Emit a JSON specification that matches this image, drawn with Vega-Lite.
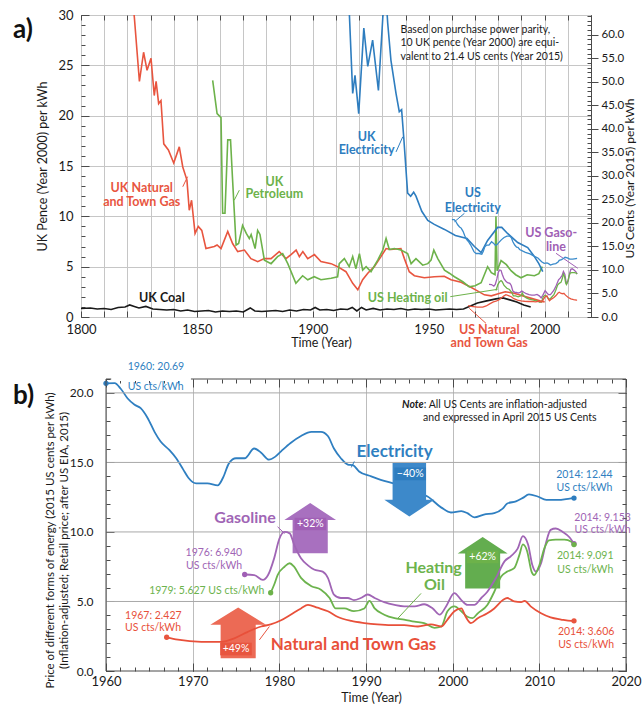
{
 "$schema": "https://vega.github.io/schema/vega-lite/v6.json",
 "background": "white",
 "padding": {"left": 12, "top": 8, "right": 0, "bottom": 0},
 "spacing": 12,
 "config": {
  "font": "Lato",
  "view": {"stroke": "#4a4a4a", "strokeWidth": 1},
  "axis": {"labelFont": "Lato", "titleFont": "Lato", "labelColor": "#1a1a1a", "titleColor": "#1a1a1a", "titleFontWeight": "normal", "domainColor": "#4a4a4a", "tickColor": "#4a4a4a", "gridColor": "#c6c6c6", "labelFlush": false, "labelOverlap": false, "labelBound": false},
  "text": {"font": "Lato"}
 },
 "datasets": {
  "elec": [{"t":1960,"v":20.69},{"t":1961,"v":20.7},{"t":1961.7,"v":20.3},{"t":1962.5,"v":19.6},{"t":1963.3,"v":19.15},{"t":1964,"v":18.9},{"t":1964.8,"v":18.2},{"t":1965.6,"v":17.2},{"t":1966.3,"v":16.5},{"t":1967.3,"v":15.9},{"t":1968.1,"v":15.3},{"t":1968.9,"v":14.5},{"t":1969.5,"v":13.9},{"t":1970.4,"v":13.5},{"t":1971.7,"v":13.5},{"t":1972.9,"v":13.35},{"t":1973.5,"v":13.9},{"t":1974.2,"v":14.95},{"t":1975,"v":15.3},{"t":1976,"v":15.3},{"t":1977.1,"v":16.0},{"t":1977.9,"v":15.7},{"t":1978.8,"v":15.2},{"t":1979.5,"v":15.4},{"t":1980.2,"v":15.8},{"t":1981.3,"v":16.4},{"t":1982.5,"v":16.9},{"t":1983.7,"v":17.2},{"t":1984.8,"v":17.2},{"t":1985.6,"v":16.9},{"t":1986.3,"v":16.0},{"t":1987.1,"v":15.3},{"t":1987.9,"v":14.85},{"t":1988.5,"v":14.8},{"t":1989.2,"v":14.35},{"t":1990.6,"v":14.0},{"t":1991.7,"v":13.75},{"t":1993.7,"v":13.4},{"t":1995.6,"v":12.9},{"t":1997.1,"v":12.55},{"t":1998.7,"v":11.75},{"t":1999.8,"v":11.4},{"t":2001,"v":11.5},{"t":2001.7,"v":11.35},{"t":2002.5,"v":11.05},{"t":2003.6,"v":11.25},{"t":2004.8,"v":11.35},{"t":2005.8,"v":11.7},{"t":2006.3,"v":12.05},{"t":2007.3,"v":12.2},{"t":2008.1,"v":12.45},{"t":2008.8,"v":12.7},{"t":2009.8,"v":12.55},{"t":2010.8,"v":12.3},{"t":2012.1,"v":12.3},{"t":2013.5,"v":12.4},{"t":2014,"v":12.44}],
  "gasoline": [{"t":1976,"v":6.94},{"t":1977.1,"v":6.9},{"t":1978.1,"v":6.55},{"t":1978.7,"v":6.9},{"t":1979.4,"v":8.1},{"t":1980,"v":9.5},{"t":1980.6,"v":10.0},{"t":1981.2,"v":9.9},{"t":1981.7,"v":9.1},{"t":1982.5,"v":8.1},{"t":1983.3,"v":7.6},{"t":1984,"v":7.3},{"t":1985,"v":7.15},{"t":1985.6,"v":6.7},{"t":1986.3,"v":5.5},{"t":1987.1,"v":5.25},{"t":1987.9,"v":5.25},{"t":1988.6,"v":5.1},{"t":1989.4,"v":5.25},{"t":1990.2,"v":5.5},{"t":1991,"v":5.25},{"t":1992.1,"v":4.95},{"t":1993.3,"v":4.75},{"t":1994.4,"v":4.65},{"t":1995.6,"v":4.65},{"t":1996.7,"v":4.8},{"t":1997.7,"v":4.5},{"t":1998.5,"v":4.05},{"t":1999.2,"v":4.6},{"t":2000.2,"v":5.6},{"t":2001,"v":5.1},{"t":2001.7,"v":4.75},{"t":2002.5,"v":4.75},{"t":2003.3,"v":5.25},{"t":2004,"v":5.7},{"t":2005,"v":6.7},{"t":2006,"v":7.9},{"t":2006.7,"v":8.25},{"t":2007.5,"v":8.8},{"t":2008.1,"v":9.7},{"t":2008.7,"v":9.1},{"t":2009.2,"v":7.6},{"t":2009.6,"v":7.15},{"t":2010.2,"v":7.75},{"t":2010.8,"v":9.3},{"t":2011.3,"v":10.15},{"t":2011.9,"v":10.25},{"t":2012.7,"v":10.0},{"t":2013.5,"v":9.6},{"t":2014,"v":9.153}],
  "oil": [{"t":1979,"v":5.627},{"t":1979.4,"v":6.2},{"t":1979.8,"v":6.9},{"t":1980.6,"v":7.5},{"t":1981.2,"v":7.75},{"t":1981.7,"v":7.5},{"t":1982.5,"v":6.7},{"t":1983.7,"v":6.1},{"t":1984.8,"v":5.85},{"t":1985.8,"v":5.25},{"t":1986.5,"v":4.5},{"t":1987.5,"v":4.5},{"t":1988.6,"v":4.3},{"t":1989.8,"v":4.5},{"t":1990.4,"v":5.05},{"t":1991,"v":4.5},{"t":1992.1,"v":4.05},{"t":1993.3,"v":3.8},{"t":1994.4,"v":3.7},{"t":1995.6,"v":3.55},{"t":1996.7,"v":3.45},{"t":1997.9,"v":3.1},{"t":1998.7,"v":3.2},{"t":1999.4,"v":4.3},{"t":2000.2,"v":4.65},{"t":2001,"v":4.3},{"t":2001.7,"v":3.9},{"t":2002.3,"v":3.8},{"t":2002.9,"v":4.15},{"t":2004,"v":4.75},{"t":2004.8,"v":5.7},{"t":2005.6,"v":6.8},{"t":2006.3,"v":7.15},{"t":2007.1,"v":7.4},{"t":2007.7,"v":8.35},{"t":2008.1,"v":9.1},{"t":2008.6,"v":8.6},{"t":2009.1,"v":7.15},{"t":2009.4,"v":6.9},{"t":2010,"v":7.6},{"t":2010.6,"v":8.85},{"t":2011.1,"v":9.4},{"t":2011.9,"v":9.45},{"t":2012.9,"v":9.45},{"t":2013.7,"v":9.3},{"t":2014,"v":9.091}],
  "ngas": [{"t":1967,"v":2.427},{"t":1968.3,"v":2.25},{"t":1971,"v":2.1},{"t":1973.3,"v":2.1},{"t":1974.8,"v":2.35},{"t":1976.3,"v":2.8},{"t":1977.9,"v":3.2},{"t":1979,"v":3.35},{"t":1980.2,"v":3.65},{"t":1981.3,"v":4.05},{"t":1982.5,"v":4.5},{"t":1983.3,"v":4.75},{"t":1984.4,"v":4.55},{"t":1985.6,"v":4.3},{"t":1986.7,"v":3.9},{"t":1988.3,"v":3.6},{"t":1989.8,"v":3.45},{"t":1991.3,"v":3.35},{"t":1992.9,"v":3.3},{"t":1994.4,"v":3.3},{"t":1996,"v":3.2},{"t":1997.5,"v":3.35},{"t":1998.7,"v":3.2},{"t":1999.4,"v":3.7},{"t":2000.2,"v":4.3},{"t":2001,"v":4.5},{"t":2001.5,"v":3.9},{"t":2002.1,"v":3.45},{"t":2002.9,"v":3.8},{"t":2004,"v":4.15},{"t":2004.8,"v":4.5},{"t":2005.8,"v":5.1},{"t":2006.3,"v":5.25},{"t":2007.1,"v":5.0},{"t":2007.9,"v":4.95},{"t":2008.3,"v":5.05},{"t":2009,"v":4.65},{"t":2010.2,"v":4.15},{"t":2011.3,"v":3.85},{"t":2012.5,"v":3.7},{"t":2013.7,"v":3.6},{"t":2014,"v":3.606}]
 },
 "vconcat": [
  {
   "width": 510, "height": 302,
   "layer": [
    {"layer": [
     {"data": {"values": [{"t":1822,"v":32},{"t":1823,"v":29.8},{"t":1825.2,"v":23.4},{"t":1827,"v":26.3},{"t":1828.5,"v":24.5},{"t":1830.2,"v":25.7},{"t":1831.6,"v":22.0},{"t":1832.4,"v":23.4},{"t":1833.5,"v":21.2},{"t":1834.5,"v":21.5},{"t":1835.7,"v":17.2},{"t":1837.7,"v":16.6},{"t":1840,"v":15.3},{"t":1842.4,"v":16.9},{"t":1843.9,"v":14.9},{"t":1845.7,"v":13.6},{"t":1846.7,"v":10.6},{"t":1847.7,"v":11.6},{"t":1849.2,"v":8.3},{"t":1850.6,"v":9.0},{"t":1852.1,"v":8.6},{"t":1853.9,"v":6.8},{"t":1857.5,"v":7.0},{"t":1858.7,"v":7.15},{"t":1860.4,"v":6.8},{"t":1863.3,"v":8.5},{"t":1865.4,"v":7.3},{"t":1867.6,"v":6.5},{"t":1870.5,"v":6.65},{"t":1873.3,"v":5.8},{"t":1876.2,"v":5.5},{"t":1879.1,"v":5.8},{"t":1882,"v":5.8},{"t":1885.5,"v":6.5},{"t":1888.4,"v":5.8},{"t":1890.6,"v":6.2},{"t":1892.8,"v":6.65},{"t":1894.2,"v":6.0},{"t":1895.7,"v":6.5},{"t":1897.8,"v":5.8},{"t":1900.7,"v":6.2},{"t":1903.5,"v":5.5},{"t":1907.9,"v":5.3},{"t":1910.7,"v":5.0},{"t":1914.3,"v":4.5},{"t":1917.2,"v":3.35},{"t":1919.4,"v":2.7},{"t":1921.5,"v":3.7},{"t":1923.7,"v":4.35},{"t":1926.5,"v":5.0},{"t":1929.4,"v":6.0},{"t":1931.6,"v":6.8},{"t":1933.7,"v":6.7},{"t":1938,"v":6.8},{"t":1939.5,"v":5.8},{"t":1941.6,"v":4.5},{"t":1943.8,"v":4.1},{"t":1948.1,"v":3.9},{"t":1952.4,"v":4.0},{"t":1956.7,"v":4.05},{"t":1959.6,"v":3.7},{"t":1964,"v":3.45},{"t":1968.2,"v":2.95},{"t":1971,"v":2.6},{"t":1974,"v":2.2},{"t":1977,"v":2.1},{"t":1980,"v":2.3},{"t":1983,"v":2.5},{"t":1986,"v":2.4},{"t":1989,"v":2.2},{"t":1992,"v":2.0},{"t":1995,"v":1.8},{"t":1998,"v":1.6},{"t":2000,"v":1.5}]},
      "mark": {"type": "line", "color": "#e8553f", "strokeWidth": 1.6, "clip": true},
      "encoding": {
       "x": {"field": "t", "type": "quantitative", "scale": {"domain": [1800, 2020], "nice": false},
        "axis": {"orient": "bottom", "title": "Time  (Year)", "values": [1800,1810,1820,1830,1840,1850,1860,1870,1880,1890,1900,1910,1920,1930,1940,1950,1960,1970,1980,1990,2000,2010,2020], "format": "d", "labelExpr": "datum.value % 50 === 0 ? datum.label : ''", "tickSize": -6, "labelPadding": 12.5, "labelFontSize": 13, "titleFontSize": 12.5, "titlePadding": 0, "titleX": 240, "grid": true, "domain": false}},
       "y": {"field": "v", "type": "quantitative", "scale": {"domain": [0, 30], "nice": false},
        "axis": {"orient": "left", "title": "UK Pence (Year 2000) per kWh", "values": [0,5,10,15,20,25,30], "format": "d", "tickSize": -8, "labelPadding": 16, "labelFontSize": 13, "titleFontSize": 12.5, "titlePadding": 8, "grid": true, "domain": false}}
      }
     },
     {"data": {"values": [{"t": 1900, "v": 10}]},
      "mark": {"type": "point", "opacity": 0},
      "encoding": {
       "x": {"field": "t", "type": "quantitative", "axis": {"orient": "top", "values": [1800,1810,1820,1830,1840,1850,1860,1870,1880,1890,1900,1910,1920,1930,1940,1950,1960,1970,1980,1990,2000,2010,2020], "labels": false, "tickSize": -5, "domain": false, "grid": false, "title": null}},
       "y": {"field": "v", "type": "quantitative", "axis": {"orient": "left", "values": [0,1,2,3,4,5,6,7,8,9,10,11,12,13,14,15,16,17,18,19,20,21,22,23,24,25,26,27,28,29,30], "labels": false, "tickSize": -4, "domain": false, "grid": false, "title": null}}
      }
     },
     {"data": {"values": [{"t":1856.8,"v":23.5},{"t":1858.7,"v":20.2},{"t":1860.4,"v":19.8},{"t":1861.1,"v":10.3},{"t":1862.1,"v":10.3},{"t":1863.3,"v":17.6},{"t":1864.5,"v":17.6},{"t":1865.3,"v":14},{"t":1866.9,"v":7.15},{"t":1868,"v":7.3},{"t":1869.7,"v":9.1},{"t":1871.3,"v":8.3},{"t":1872.6,"v":7.8},{"t":1873.4,"v":8.2},{"t":1875.1,"v":6.8},{"t":1876.2,"v":8.6},{"t":1877.2,"v":8.2},{"t":1879.1,"v":5.65},{"t":1882,"v":5.3},{"t":1884.8,"v":6.0},{"t":1887,"v":6.3},{"t":1889.2,"v":5.3},{"t":1892.7,"v":3.35},{"t":1895.6,"v":4.1},{"t":1897.8,"v":3.7},{"t":1900.6,"v":4.0},{"t":1903.5,"v":3.7},{"t":1907.9,"v":3.85},{"t":1910.7,"v":4.0},{"t":1911.4,"v":5.3},{"t":1913.6,"v":5.8},{"t":1915.7,"v":5.0},{"t":1917.2,"v":6.0},{"t":1918.6,"v":4.8},{"t":1920.1,"v":6.3},{"t":1921.5,"v":4.65},{"t":1923,"v":5.0},{"t":1925.1,"v":4.5},{"t":1928,"v":5.65},{"t":1930.2,"v":6.65},{"t":1931.6,"v":7.8},{"t":1933,"v":6.7},{"t":1935.2,"v":6.8},{"t":1938,"v":6.65},{"t":1940.9,"v":6.3},{"t":1942.4,"v":5.3},{"t":1944.5,"v":5.8},{"t":1947.4,"v":5.15},{"t":1949.6,"v":5.3},{"t":1951,"v":5.65},{"t":1952.2,"v":6.65},{"t":1953.9,"v":5.8},{"t":1956.8,"v":4.65},{"t":1958.9,"v":4.35},{"t":1961.1,"v":4.0},{"t":1964.7,"v":3.5},{"t":1967.5,"v":3.0},{"t":1970,"v":3.1},{"t":1972.6,"v":3.4},{"t":1975.4,"v":5.0},{"t":1977,"v":4.4},{"t":1978.6,"v":4.2},{"t":1979,"v":10.0},{"t":1979.5,"v":4.6},{"t":1981.2,"v":5.6},{"t":1983.5,"v":5.2},{"t":1985.5,"v":4.6},{"t":1987.5,"v":4.2},{"t":1989.8,"v":3.9},{"t":1992.5,"v":4.2},{"t":1995.6,"v":4.1},{"t":1997.5,"v":4.3},{"t":1999,"v":5.0}]},
      "mark": {"type": "line", "color": "#6db24a", "strokeWidth": 1.6, "clip": true},
      "encoding": {"x": {"field": "t", "type": "quantitative", "axis": null}, "y": {"field": "v", "type": "quantitative", "axis": null}}
     },
     {"data": {"values": [{"t":1915.6,"v":31},{"t":1917.2,"v":22.2},{"t":1918.2,"v":24.0},{"t":1919.8,"v":20.2},{"t":1922,"v":28.7},{"t":1923.7,"v":24.9},{"t":1925.8,"v":27.5},{"t":1928.3,"v":22.5},{"t":1930.2,"v":29.8},{"t":1930.8,"v":31},{"t":1931.8,"v":31},{"t":1932.3,"v":29.2},{"t":1933.7,"v":25.5},{"t":1935.9,"v":22.2},{"t":1937.3,"v":20.4},{"t":1938.3,"v":20.6},{"t":1939.2,"v":17.9},{"t":1940.9,"v":12.3},{"t":1942.2,"v":12.0},{"t":1943.5,"v":12.4},{"t":1944.5,"v":12.0},{"t":1947,"v":10.5},{"t":1949.6,"v":9.6},{"t":1952.4,"v":9.2},{"t":1956.8,"v":8.7},{"t":1961.5,"v":8.1},{"t":1966.5,"v":7.8},{"t":1969.7,"v":7.0},{"t":1972.6,"v":6.4},{"t":1975.4,"v":7.6},{"t":1979.7,"v":8.9},{"t":1981.5,"v":8.9},{"t":1984,"v":8.3},{"t":1988.4,"v":7.4},{"t":1992.7,"v":6.9},{"t":1995.6,"v":6.0},{"t":1997.5,"v":5.3},{"t":1999.2,"v":4.5}]},
      "mark": {"type": "line", "color": "#2e7dbf", "strokeWidth": 1.6, "clip": true},
      "encoding": {"x": {"field": "t", "type": "quantitative", "axis": null}, "y": {"field": "v", "type": "quantitative", "axis": null}}
     },
     {"data": {"values": [{"t":1800,"v":0.85},{"t":1804,"v":0.9},{"t":1807,"v":0.8},{"t":1810,"v":0.85},{"t":1813,"v":0.75},{"t":1816,"v":0.95},{"t":1819,"v":1.0},{"t":1821,"v":1.2},{"t":1823,"v":1.05},{"t":1825,"v":0.9},{"t":1828,"v":1.05},{"t":1831,"v":0.8},{"t":1834,"v":0.75},{"t":1837,"v":0.7},{"t":1840,"v":0.75},{"t":1843,"v":0.6},{"t":1846,"v":0.7},{"t":1849,"v":0.55},{"t":1852,"v":0.6},{"t":1855,"v":0.65},{"t":1858,"v":0.5},{"t":1861,"v":0.6},{"t":1864,"v":0.55},{"t":1867,"v":0.6},{"t":1870,"v":0.5},{"t":1873,"v":0.9},{"t":1875,"v":0.6},{"t":1878,"v":0.55},{"t":1881,"v":0.6},{"t":1884,"v":0.65},{"t":1887,"v":0.55},{"t":1890,"v":0.7},{"t":1893,"v":0.6},{"t":1896,"v":0.75},{"t":1899,"v":0.7},{"t":1901,"v":0.95},{"t":1903,"v":0.7},{"t":1906,"v":0.75},{"t":1909,"v":0.65},{"t":1912,"v":0.8},{"t":1915,"v":0.75},{"t":1917,"v":0.95},{"t":1919,"v":0.6},{"t":1921,"v":0.95},{"t":1923,"v":0.7},{"t":1926,"v":0.85},{"t":1929,"v":0.7},{"t":1932,"v":0.8},{"t":1935,"v":0.75},{"t":1938,"v":0.85},{"t":1941,"v":0.7},{"t":1944,"v":0.8},{"t":1947,"v":0.75},{"t":1950,"v":0.8},{"t":1953,"v":0.7},{"t":1956,"v":0.75},{"t":1959,"v":0.8},{"t":1962,"v":0.75},{"t":1965,"v":0.8},{"t":1968,"v":1.1},{"t":1971,"v":1.4},{"t":1975,"v":1.6},{"t":1979,"v":1.8},{"t":1982,"v":1.9},{"t":1985,"v":1.7},{"t":1988,"v":1.5},{"t":1991,"v":1.2},{"t":1994,"v":1.0}]},
      "mark": {"type": "line", "color": "#1a1a1a", "strokeWidth": 1.6},
      "encoding": {"x": {"field": "t", "type": "quantitative", "axis": null}, "y": {"field": "v", "type": "quantitative", "axis": null}}
     },
     {"data": {"values": [{"k":"gas","t":1843.9,"v":12.94,"t2":1846.0,"v2":13.94},{"k":"oil","t":1866.1,"v":11.6,"t2":1868.3,"v2":12.6},{"k":"elec","t":1935.9,"v":16.4,"t2":1938.8,"v2":17.9},{"k":"elec","t":1961.1,"v":9.46,"t2":1965.4,"v2":10.3},{"k":"gasoline","t":2004.9,"v":6.33,"t2":2014.3,"v2":4.84},{"k":"oil","t":1959.3,"v":2.02,"t2":1979.7,"v2":2.75},{"k":"gas","t":1967.5,"v":0.86,"t2":1974.7,"v2":-0.63}]},
      "mark": {"type": "rule", "strokeWidth": 1},
      "encoding": {"x": {"field": "t", "type": "quantitative", "axis": null}, "x2": {"field": "t2"}, "y": {"field": "v", "type": "quantitative", "axis": null}, "y2": {"field": "v2"},
       "color": {"field": "k", "type": "nominal", "scale": {"domain": ["gas","oil","elec","gasoline"], "range": ["#e8553f","#6db24a","#2e7dbf","#a05fb5"]}, "legend": null}}
     },
     {"data": {"values": [{"t":1826.2,"v":12.78,"s":"UK Natural"},{"t":1826.2,"v":11.45,"s":"and Town Gas"},{"t":1976.1,"v":-1.29,"s":"US Natural"},{"t":1976.1,"v":-2.55,"s":"and Town Gas"}]},
      "mark": {"type": "text", "color": "#e8553f", "fontSize": 12.5, "fontWeight": "bold", "align": "center", "baseline": "middle"},
      "encoding": {"x": {"field": "t", "type": "quantitative", "axis": null}, "y": {"field": "v", "type": "quantitative", "axis": null}, "text": {"field": "s"}}
     },
     {"data": {"values": [{"t":1883.4,"v":13.44,"s":"UK"},{"t":1883.4,"v":12.18,"s":"Petroleum"},{"t":1940.9,"v":1.92,"s":"US Heating oil"}]},
      "mark": {"type": "text", "color": "#6db24a", "fontSize": 12.5, "fontWeight": "bold", "align": "center", "baseline": "middle"},
      "encoding": {"x": {"field": "t", "type": "quantitative", "axis": null}, "y": {"field": "v", "type": "quantitative", "axis": null}, "text": {"field": "s"}}
     },
     {"data": {"values": [{"t":1923.2,"v":17.9,"s":"UK"},{"t":1923.2,"v":16.58,"s":"Electricity"},{"t":1969.0,"v":12.28,"s":"US"},{"t":1969.0,"v":10.79,"s":"Electricity"}]},
      "mark": {"type": "text", "color": "#2e7dbf", "fontSize": 12.5, "fontWeight": "bold", "align": "center", "baseline": "middle"},
      "encoding": {"x": {"field": "t", "type": "quantitative", "axis": null}, "y": {"field": "v", "type": "quantitative", "axis": null}, "text": {"field": "s"}}
     },
     {"data": {"values": [{"t":2002.8,"v":8.31,"s":"US Gaso-"},{"t":2004.9,"v":6.98,"s":"line"}]},
      "mark": {"type": "text", "color": "#a05fb5", "fontSize": 12.5, "fontWeight": "bold", "align": "center", "baseline": "middle"},
      "encoding": {"x": {"field": "t", "type": "quantitative", "axis": null}, "y": {"field": "v", "type": "quantitative", "axis": null}, "text": {"field": "s"}}
     },
     {"data": {"values": [{"t":1834.9,"v":1.86,"s":"UK Coal"}]},
      "mark": {"type": "text", "color": "#1a1a1a", "fontSize": 12.5, "fontWeight": "bold", "align": "center", "baseline": "middle"},
      "encoding": {"x": {"field": "t", "type": "quantitative", "axis": null}, "y": {"field": "v", "type": "quantitative", "axis": null}, "text": {"field": "s"}}
     },
     {"data": {"values": [{"t":1937.8,"v":28.5,"s":"Based on purchase power parity,"},{"t":1937.8,"v":27.17,"s":"10 UK pence (Year 2000) are equi-"},{"t":1937.8,"v":25.85,"s":"valent to 21.4 US cents (Year 2015)"}]},
      "mark": {"type": "text", "color": "#1a1a1a", "fontSize": 10.5, "align": "left", "baseline": "middle"},
      "encoding": {"x": {"field": "t", "type": "quantitative", "axis": null}, "y": {"field": "v", "type": "quantitative", "axis": null}, "text": {"field": "s"}}
     },
     {"data": {"values": [{"t":1770.7,"v":28.5,"s":"a)"}]},
      "mark": {"type": "text", "color": "#111111", "fontSize": 26, "fontWeight": "bold", "align": "left", "baseline": "middle"},
      "encoding": {"x": {"field": "t", "type": "quantitative", "axis": null}, "y": {"field": "v", "type": "quantitative", "axis": null}, "text": {"field": "s"}}
     }
    ], "resolve": {"axis": {"x": "independent", "y": "independent"}}},
    {"layer": [
     {"data": {"name": "elec"},
      "mark": {"type": "line", "color": "#3a8bcb", "strokeWidth": 1.3},
      "encoding": {
       "x": {"field": "t", "type": "quantitative", "axis": null},
       "y": {"field": "v", "type": "quantitative", "scale": {"domain": [0, 64.2], "nice": false},
        "axis": {"orient": "right", "title": "US Cents (Year 2015) per kWh", "values": [0,5,10,15,20,25,30,35,40,45,50,55,60], "format": ".1f", "tickSize": 7, "labelPadding": 3, "labelFontSize": 11.5, "titleFontSize": 12, "titleAngle": 270, "titleBaseline": "top", "titlePadding": 1, "titleY": 163, "grid": false, "domain": true}}
      }
     },
     {"data": {"values": [{"t": 1900, "v": 10}]},
      "mark": {"type": "point", "opacity": 0},
      "encoding": {
       "x": {"field": "t", "type": "quantitative", "axis": null},
       "y": {"field": "v", "type": "quantitative", "axis": {"orient": "right", "values": [0,1,2,3,4,5,6,7,8,9,10,11,12,13,14,15,16,17,18,19,20,21,22,23,24,25,26,27,28,29,30,31,32,33,34,35,36,37,38,39,40,41,42,43,44,45,46,47,48,49,50,51,52,53,54,55,56,57,58,59,60,61,62,63,64], "labels": false, "tickSize": -4, "domain": false, "grid": false, "title": null}}
      }
     },
     {"data": {"name": "gasoline"},
      "mark": {"type": "line", "color": "#a05fb5", "strokeWidth": 1.3},
      "encoding": {"x": {"field": "t", "type": "quantitative", "axis": null}, "y": {"field": "v", "type": "quantitative", "axis": null}}
     },
     {"data": {"name": "oil"},
      "mark": {"type": "line", "color": "#6db24a", "strokeWidth": 1.3},
      "encoding": {"x": {"field": "t", "type": "quantitative", "axis": null}, "y": {"field": "v", "type": "quantitative", "axis": null}}
     },
     {"data": {"name": "ngas"},
      "mark": {"type": "line", "color": "#e8553f", "strokeWidth": 1.3},
      "encoding": {"x": {"field": "t", "type": "quantitative", "axis": null}, "y": {"field": "v", "type": "quantitative", "axis": null}}
     }
    ], "resolve": {"axis": {"y": "independent"}}}
   ],
   "resolve": {"scale": {"y": "independent"}, "axis": {"x": "independent", "y": "independent"}}
  },
  {
   "width": 545, "height": 292,
   "view": {"stroke": null},
   "layer": [
    {"data": {"name": "elec"},
     "mark": {"type": "line", "color": "#2f7fc1", "strokeWidth": 1.8, "interpolate": "monotone"},
     "encoding": {
      "x": {"field": "t", "type": "quantitative", "scale": {"domain": [1957.115, 2020], "nice": false},
       "axis": {"orient": "bottom", "title": "Time  (Year)", "values": [1960,1970,1980,1990,2000,2010,2020], "format": "d", "tickSize": -8, "labelPadding": 12.5, "labelFontSize": 13, "titleFontSize": 12.5, "titlePadding": 3, "titleX": 290, "grid": true, "gridColor": "#bdbdbd", "domain": false}},
      "y": {"field": "v", "type": "quantitative", "scale": {"domain": [0, 21], "nice": false},
       "axis": {"orient": "left", "offset": -25, "title": ["Price of different forms of energy  (2015 US cents per kWh)", "(Inflation-adjusted; Retail price; after US EIA, 2015)"], "values": [0,5,10,15,20], "format": ".1f", "tickSize": -8, "labelPadding": 21, "labelFontSize": 12, "titleFontSize": 11.5, "titleLineHeight": 14, "titlePadding": 0, "titleY": 161, "grid": false, "domain": false}}
     }
    },
    {"data": {"values": [{"v": 5}, {"v": 10}, {"v": 15}, {"v": 20}]},
     "mark": {"type": "rule", "color": "#a8a8a8", "strokeWidth": 1},
     "encoding": {"x": {"datum": 1960, "type": "quantitative", "axis": null}, "x2": {"datum": 2020}, "y": {"field": "v", "type": "quantitative", "axis": null}}
    },
    {"data": {"values": [{"t": 1990, "v": 10}]},
     "mark": {"type": "point", "opacity": 0},
     "encoding": {
      "x": {"field": "t", "type": "quantitative", "axis": {"orient": "bottom", "values": [1960,1961.667,1963.333,1965,1966.667,1968.333,1970,1971.667,1973.333,1975,1976.667,1978.333,1980,1981.667,1983.333,1985,1986.667,1988.333,1990,1991.667,1993.333,1995,1996.667,1998.333,2000,2001.667,2003.333,2005,2006.667,2008.333,2010,2011.667,2013.333,2015,2016.667,2018.333,2020], "labels": false, "tickSize": -4, "domain": false, "grid": false, "title": null}},
      "y": {"field": "v", "type": "quantitative", "axis": {"orient": "left", "offset": -25, "values": [0,1,2,3,4,5,6,7,8,9,10,11,12,13,14,15,16,17,18,19,20,21], "labels": false, "tickSize": -4, "domain": false, "grid": false, "title": null}}
     }
    },
    {"data": {"values": [{"t": 1990, "v": 10}]},
     "mark": {"type": "point", "opacity": 0},
     "encoding": {
      "x": {"field": "t", "type": "quantitative", "axis": {"orient": "top", "values": [1960,1970,1980,1990,2000,2010,2020], "labels": false, "tickSize": -8, "domain": false, "grid": false, "title": null}},
      "y": {"field": "v", "type": "quantitative", "axis": {"orient": "right", "values": [0,5,10,15,20], "labels": false, "tickSize": -8, "domain": false, "grid": false, "title": null}}
     }
    },
    {"data": {"values": [{"t": 1990, "v": 10}]},
     "mark": {"type": "point", "opacity": 0},
     "encoding": {
      "x": {"field": "t", "type": "quantitative", "axis": {"orient": "top", "values": [1960,1961.667,1963.333,1965,1966.667,1968.333,1970,1971.667,1973.333,1975,1976.667,1978.333,1980,1981.667,1983.333,1985,1986.667,1988.333,1990,1991.667,1993.333,1995,1996.667,1998.333,2000,2001.667,2003.333,2005,2006.667,2008.333,2010,2011.667,2013.333,2015,2016.667,2018.333,2020], "labels": false, "tickSize": -4, "domain": false, "grid": false, "title": null}},
      "y": {"field": "v", "type": "quantitative", "axis": {"orient": "right", "values": [0,1,2,3,4,5,6,7,8,9,10,11,12,13,14,15,16,17,18,19,20,21], "labels": false, "tickSize": -4, "domain": false, "grid": false, "title": null}}
     }
    },
    {"data": {"values": [{"t":1983.56,"v":10.27}]},
     "mark": {"type": "point", "shape": "M0,-0.97L1,-0.32L0.68,-0.32L0.68,0.97L-0.68,0.97L-0.68,-0.32L-1,-0.32Z", "size": 2673, "filled": true, "color": "#a870bf", "opacity": 1},
     "encoding": {"x": {"field": "t", "type": "quantitative", "axis": null}, "y": {"field": "v", "type": "quantitative", "axis": null}}
    },
    {"data": {"values": [{"t":1995.0,"v":13.03}]},
     "mark": {"type": "point", "shape": "M-0.67,-1.07L0.67,-1.07L0.67,0.4L1,0.4L0,1.07L-1,0.4L-0.67,0.4Z", "size": 2500, "filled": true, "color": "#3d89ca", "opacity": 1},
     "encoding": {"x": {"field": "t", "type": "quantitative", "axis": null}, "y": {"field": "v", "type": "quantitative", "axis": null}}
    },
    {"data": {"values": [{"t":2003.46,"v":7.79}]},
     "mark": {"type": "point", "shape": "M0,-1.03L1,-0.37L0.7,-0.37L0.7,1.03L-0.7,1.03L-0.7,-0.37L-1,-0.37Z", "size": 2500, "filled": true, "color": "#63ad4f", "opacity": 1},
     "encoding": {"x": {"field": "t", "type": "quantitative", "axis": null}, "y": {"field": "v", "type": "quantitative", "axis": null}}
    },
    {"data": {"values": [{"t":1975.25,"v":2.74}]},
     "mark": {"type": "point", "shape": "M0,-0.91L1,-0.29L0.63,-0.29L0.63,0.91L-0.63,0.91L-0.63,-0.29L-1,-0.29Z", "size": 3102, "filled": true, "color": "#ec6a55", "opacity": 1},
     "encoding": {"x": {"field": "t", "type": "quantitative", "axis": null}, "y": {"field": "v", "type": "quantitative", "axis": null}}
    },
    {"data": {"values": [{"k":"gasoline","t":1983.58,"v":10.57},{"k":"elec","t":1995.1,"v":14.18},{"k":"oil","t":2003.46,"v":8.21},{"k":"gas","t":1975.0,"v":1.58}]},
     "mark": {"type": "point", "shape": "M-1,-0.4L1,-0.4L1,0.4L-1,0.4Z", "size": 1000, "filled": true, "opacity": 1},
     "encoding": {"x": {"field": "t", "type": "quantitative", "axis": null}, "y": {"field": "v", "type": "quantitative", "axis": null},
      "color": {"field": "k", "type": "nominal", "scale": {"domain": ["gas","oil","elec","gasoline"], "range": ["#d94e3a","#4f9a3e","#2a72b2","#8e55a8"]}, "legend": null}}
    },
    {"data": {"values": [{"t":1983.58,"v":10.57,"s":"+32%"},{"t":1995.1,"v":14.18,"s":"−40%"},{"t":2003.46,"v":8.21,"s":"+62%"},{"t":1975.0,"v":1.58,"s":"+49%"}]},
     "mark": {"type": "text", "color": "white", "fontSize": 10.5, "align": "center", "baseline": "middle"},
     "encoding": {"x": {"field": "t", "type": "quantitative", "axis": null}, "y": {"field": "v", "type": "quantitative", "axis": null}, "text": {"field": "s"}}
    },
    {"data": {"name": "gasoline"},
     "mark": {"type": "line", "color": "#a065b5", "strokeWidth": 1.8, "interpolate": "monotone"},
     "encoding": {"x": {"field": "t", "type": "quantitative", "axis": null}, "y": {"field": "v", "type": "quantitative", "axis": null}}
    },
    {"data": {"name": "oil"},
     "mark": {"type": "line", "color": "#6cb34d", "strokeWidth": 1.8, "interpolate": "monotone"},
     "encoding": {"x": {"field": "t", "type": "quantitative", "axis": null}, "y": {"field": "v", "type": "quantitative", "axis": null}}
    },
    {"data": {"name": "ngas"},
     "mark": {"type": "line", "color": "#e8503a", "strokeWidth": 1.8, "interpolate": "monotone"},
     "encoding": {"x": {"field": "t", "type": "quantitative", "axis": null}, "y": {"field": "v", "type": "quantitative", "axis": null}}
    },
    {"data": {"values": [{"k":"gasoline","t":1979.8,"v":10.37,"t2":1980.6,"v2":9.89},{"k":"elec","t":1988.3,"v":14.64,"t2":1988.65,"v2":15.07},{"k":"oil","t":1996.35,"v":5.58,"t2":1993.66,"v2":3.78},{"k":"gas","t":1977.7,"v":2.24,"t2":1978.85,"v2":3.2}]},
     "mark": {"type": "rule", "strokeWidth": 1},
     "encoding": {"x": {"field": "t", "type": "quantitative", "axis": null}, "x2": {"field": "t2"}, "y": {"field": "v", "type": "quantitative", "axis": null}, "y2": {"field": "v2"},
      "color": {"field": "k", "type": "nominal", "scale": {"domain": ["gas","oil","elec","gasoline"], "range": ["#e8503a","#6cb34d","#2f7fc1","#a065b5"]}, "legend": null}}
    },
    {"data": {"values": [{"k":"elec","t":1960,"v":20.69},{"k":"elec","t":2014,"v":12.44},{"k":"gasoline","t":1976,"v":6.94},{"k":"gasoline","t":2014,"v":9.153},{"k":"oil","t":1979,"v":5.627},{"k":"oil","t":2014,"v":9.091},{"k":"gas","t":1967,"v":2.427},{"k":"gas","t":2014,"v":3.606}]},
     "mark": {"type": "point", "filled": true, "size": 28, "opacity": 1},
     "encoding": {"x": {"field": "t", "type": "quantitative", "axis": null}, "y": {"field": "v", "type": "quantitative", "axis": null},
      "color": {"field": "k", "type": "nominal", "scale": {"domain": ["gas","oil","elec","gasoline"], "range": ["#e8503a","#6cb34d","#2f7fc1","#a065b5"]}, "legend": null}}
    },
    {"data": {"values": [{"t":1960,"t2":2020,"v":0,"v2":21}]},
     "mark": {"type": "rect", "fill": null, "fillOpacity": 0, "stroke": "#4a4a4a", "strokeWidth": 1},
     "encoding": {"x": {"field": "t", "type": "quantitative", "axis": null}, "x2": {"field": "t2"}, "y": {"field": "v", "type": "quantitative", "axis": null}, "y2": {"field": "v2"}}
    },
    {"data": {"values": [{"t":1960.6,"t2":1969.8,"v":20.85,"v2":21.6}]},
     "mark": {"type": "rect", "color": "white"},
     "encoding": {"x": {"field": "t", "type": "quantitative", "axis": null}, "x2": {"field": "t2"}, "y": {"field": "v", "type": "quantitative", "axis": null}, "y2": {"field": "v2"}}
    },
    {"data": {"values": [{"t":1962.5,"v":21.85,"s":"1960: 20.69"},{"t":1962.5,"v":20.4,"s":"US cts/kWh"}]},
     "mark": {"type": "text", "color": "#2f7fc1", "fontSize": 10.5, "align": "left", "baseline": "middle"},
     "encoding": {"x": {"field": "t", "type": "quantitative", "axis": null}, "y": {"field": "v", "type": "quantitative", "axis": null}, "text": {"field": "s"}}
    },
    {"data": {"values": [{"t":2015.2,"v":14.1,"s":"2014: 12.44"},{"t":2015.2,"v":13.15,"s":"US cts/kWh"}]},
     "mark": {"type": "text", "color": "#2f7fc1", "fontSize": 10.5, "align": "center", "baseline": "middle"},
     "encoding": {"x": {"field": "t", "type": "quantitative", "axis": null}, "y": {"field": "v", "type": "quantitative", "axis": null}, "text": {"field": "s"}}
    },
    {"data": {"values": [{"t":1975.7,"v":8.47,"s":"1976: 6.940"},{"t":1975.7,"v":7.52,"s":"US cts/kWh"}]},
     "mark": {"type": "text", "color": "#a065b5", "fontSize": 10.5, "align": "right", "baseline": "middle"},
     "encoding": {"x": {"field": "t", "type": "quantitative", "axis": null}, "y": {"field": "v", "type": "quantitative", "axis": null}, "text": {"field": "s"}}
    },
    {"data": {"values": [{"t":2017.3,"v":11.0,"s":"2014: 9.153"},{"t":2017.3,"v":10.15,"s":"US cts/kWh"}]},
     "mark": {"type": "text", "color": "#a065b5", "fontSize": 10.5, "align": "center", "baseline": "middle"},
     "encoding": {"x": {"field": "t", "type": "quantitative", "axis": null}, "y": {"field": "v", "type": "quantitative", "axis": null}, "text": {"field": "s"}}
    },
    {"data": {"values": [{"t":1978.27,"v":5.72,"s":"1979: 5.627 US cts/kWh"}]},
     "mark": {"type": "text", "color": "#6cb34d", "fontSize": 10.5, "align": "right", "baseline": "middle"},
     "encoding": {"x": {"field": "t", "type": "quantitative", "axis": null}, "y": {"field": "v", "type": "quantitative", "axis": null}, "text": {"field": "s"}}
    },
    {"data": {"values": [{"t":2015.3,"v":8.24,"s":"2014: 9.091"},{"t":2015.3,"v":7.27,"s":"US cts/kWh"}]},
     "mark": {"type": "text", "color": "#6cb34d", "fontSize": 10.5, "align": "center", "baseline": "middle"},
     "encoding": {"x": {"field": "t", "type": "quantitative", "axis": null}, "y": {"field": "v", "type": "quantitative", "axis": null}, "text": {"field": "s"}}
    },
    {"data": {"values": [{"t":1962.2,"v":3.92,"s":"1967: 2.427"},{"t":1962.2,"v":3.08,"s":"US cts/kWh"}]},
     "mark": {"type": "text", "color": "#e8503a", "fontSize": 10.5, "align": "left", "baseline": "middle"},
     "encoding": {"x": {"field": "t", "type": "quantitative", "axis": null}, "y": {"field": "v", "type": "quantitative", "axis": null}, "text": {"field": "s"}}
    },
    {"data": {"values": [{"t":2015.4,"v":2.84,"s":"2014: 3.606"},{"t":2015.4,"v":1.88,"s":"US cts/kWh"}]},
     "mark": {"type": "text", "color": "#e8503a", "fontSize": 10.5, "align": "center", "baseline": "middle"},
     "encoding": {"x": {"field": "t", "type": "quantitative", "axis": null}, "y": {"field": "v", "type": "quantitative", "axis": null}, "text": {"field": "s"}}
    },
    {"data": {"values": [{"t":1993.3,"v":15.76,"s":"Electricity"}]},
     "mark": {"type": "text", "color": "#2f7fc1", "fontSize": 17, "fontWeight": "bold", "align": "center", "baseline": "middle"},
     "encoding": {"x": {"field": "t", "type": "quantitative", "axis": null}, "y": {"field": "v", "type": "quantitative", "axis": null}, "text": {"field": "s"}}
    },
    {"data": {"values": [{"t":1976.05,"v":10.97,"s":"Gasoline"}]},
     "mark": {"type": "text", "color": "#a065b5", "fontSize": 16, "fontWeight": "bold", "align": "center", "baseline": "middle"},
     "encoding": {"x": {"field": "t", "type": "quantitative", "axis": null}, "y": {"field": "v", "type": "quantitative", "axis": null}, "text": {"field": "s"}}
    },
    {"data": {"values": [{"t":1997.8,"v":7.4,"s":"Heating"},{"t":1997.9,"v":6.2,"s":"Oil"}]},
     "mark": {"type": "text", "color": "#6cb34d", "fontSize": 16, "fontWeight": "bold", "align": "center", "baseline": "middle"},
     "encoding": {"x": {"field": "t", "type": "quantitative", "axis": null}, "y": {"field": "v", "type": "quantitative", "axis": null}, "text": {"field": "s"}}
    },
    {"data": {"values": [{"t":1988.56,"v":1.86,"s":"Natural and Town Gas"}]},
     "mark": {"type": "text", "color": "#e8503a", "fontSize": 17, "fontWeight": "bold", "align": "center", "baseline": "middle"},
     "encoding": {"x": {"field": "t", "type": "quantitative", "axis": null}, "y": {"field": "v", "type": "quantitative", "axis": null}, "text": {"field": "s"}}
    },
    {"data": {"values": [{"t":1996.66,"v":19.12,"s":"Note"}]},
     "mark": {"type": "text", "color": "#1a1a1a", "fontSize": 10.5, "fontWeight": "bold", "fontStyle": "italic", "align": "right", "baseline": "middle"},
     "encoding": {"x": {"field": "t", "type": "quantitative", "axis": null}, "y": {"field": "v", "type": "quantitative", "axis": null}, "text": {"field": "s"}}
    },
    {"data": {"values": [{"t":1996.66,"v":19.12,"s":": All US Cents are inflation-adjusted"}]},
     "mark": {"type": "text", "color": "#1a1a1a", "fontSize": 10.5, "align": "left", "baseline": "middle"},
     "encoding": {"x": {"field": "t", "type": "quantitative", "axis": null}, "y": {"field": "v", "type": "quantitative", "axis": null}, "text": {"field": "s"}}
    },
    {"data": {"values": [{"t":2006.6,"v":18.16,"s":"and expressed in April 2015 US Cents"}]},
     "mark": {"type": "text", "color": "#1a1a1a", "fontSize": 10.5, "align": "center", "baseline": "middle"},
     "encoding": {"x": {"field": "t", "type": "quantitative", "axis": null}, "y": {"field": "v", "type": "quantitative", "axis": null}, "text": {"field": "s"}}
    },
    {"data": {"values": [{"t":1949.27,"v":19.8,"s":"b)"}]},
     "mark": {"type": "text", "color": "#111111", "fontSize": 26, "fontWeight": "bold", "align": "left", "baseline": "middle"},
     "encoding": {"x": {"field": "t", "type": "quantitative", "axis": null}, "y": {"field": "v", "type": "quantitative", "axis": null}, "text": {"field": "s"}}
    }
   ],
   "resolve": {"axis": {"x": "independent", "y": "independent"}}
  }
 ]
}
